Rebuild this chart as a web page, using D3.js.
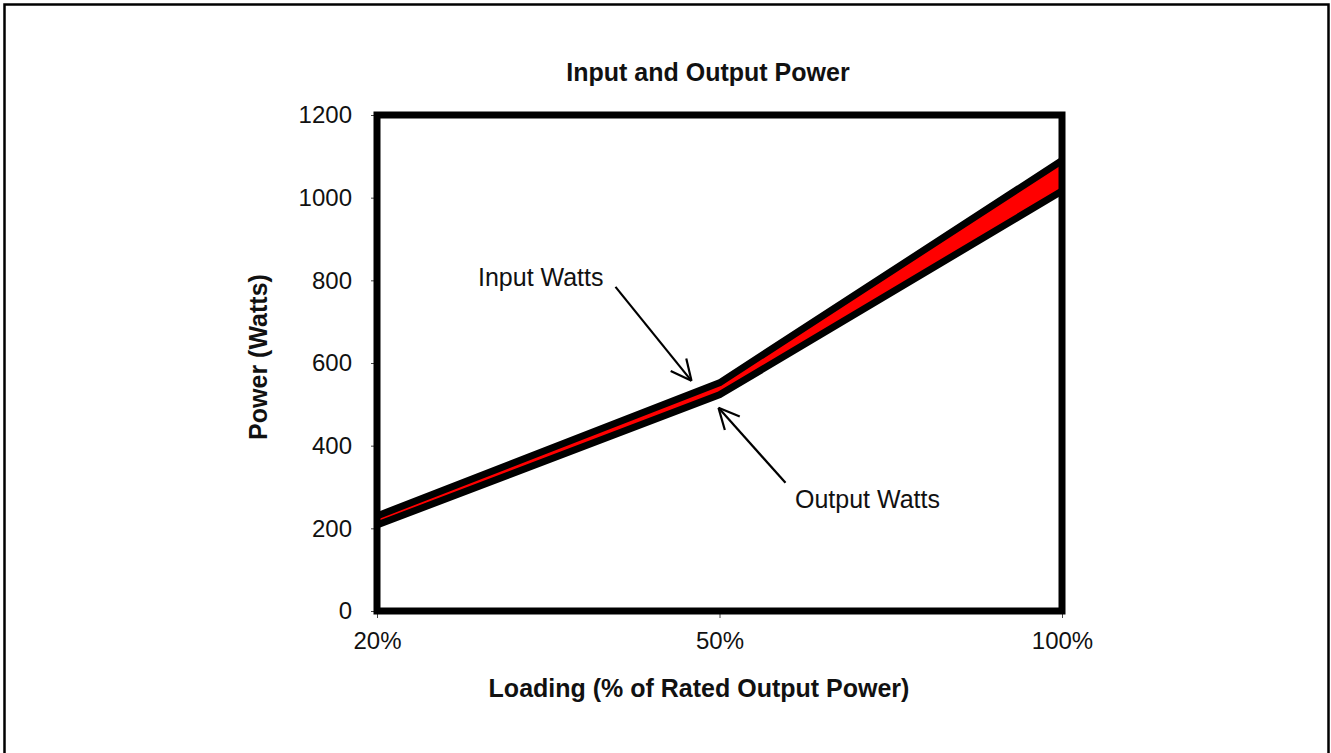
<!DOCTYPE html>
<html>
<head>
<meta charset="utf-8">
<script src="https://cdn.jsdelivr.net/npm/d3@7"></script>
<style>
  body { margin: 0; background: #fff; }
  text { font-family: "Liberation Sans", Arial, sans-serif; fill: #111; }
</style>
</head>
<body>
<div id="chart"></div>
<script>
// chart data
var loading = ["20%", "50%", "100%"];
var inputWatts = [230, 552, 1090];
var outputWatts = [208, 523, 1016];
var yTicks = [0, 200, 400, 600, 800, 1000, 1200];

var width = 1331,
    height = 753;

var svg = d3.select("#chart").append("svg")
  .attr("width", width)
  .attr("height", height);

// outer frame
svg.append("rect")
  .attr("x", 4.5).attr("y", 4.5)
  .attr("width", 1324).attr("height", 770)
  .attr("fill", "none")
  .attr("stroke", "#000")
  .attr("stroke-width", 2.5);

var x = d3.scalePoint().domain(loading).range([377, 1062]).padding(0);
var y = d3.scaleLinear().domain([0, 1200]).range([611, 115]);

// axes (ticks only, frame drawn later)
var yAxis = svg.append("g")
  .attr("transform", "translate(" + x.range()[0] + ",0)")
  .call(d3.axisLeft(y).tickValues(yTicks).tickFormat(d3.format("d")).tickSize(6).tickPadding(19));
yAxis.select(".domain").remove();
yAxis.selectAll("line").attr("stroke", "#444");
yAxis.selectAll("text").style("font-size", "24px").attr("font-family", null);

var xAxis = svg.append("g")
  .attr("transform", "translate(0," + y(0) + ")")
  .call(d3.axisBottom(x).tickSize(7).tickPadding(14));
xAxis.select(".domain").remove();
xAxis.selectAll("line").attr("stroke", "#444");
xAxis.selectAll("text").style("font-size", "24px").attr("font-family", null);

// red band between the two series
var rows = loading.map(function(d, i) {
  return { cat: d, inp: inputWatts[i], out: outputWatts[i] };
});

var band = d3.area()
  .x(function(d) { return x(d.cat); })
  .y0(function(d) { return y(d.out); })
  .y1(function(d) { return y(d.inp); });

svg.append("path")
  .datum(rows)
  .attr("d", band)
  .attr("fill", "#ff0000");

var line = d3.line()
  .x(function(d, i) { return x(loading[i]); })
  .y(function(d) { return y(d); });

[inputWatts, outputWatts].forEach(function(s) {
  svg.append("path")
    .datum(s)
    .attr("d", line)
    .attr("fill", "none")
    .attr("stroke", "#000")
    .attr("stroke-width", 7)
    .attr("stroke-linejoin", "round");
});

// plot frame
svg.append("rect")
  .attr("x", x.range()[0]).attr("y", y(1200))
  .attr("width", x.range()[1] - x.range()[0])
  .attr("height", y(0) - y(1200))
  .attr("fill", "none")
  .attr("stroke", "#000")
  .attr("stroke-width", 7);

// titles
svg.append("text")
  .attr("x", 708).attr("y", 81)
  .attr("text-anchor", "middle")
  .style("font-size", "25px").style("font-weight", "bold")
  .text("Input and Output Power");

svg.append("text")
  .attr("x", 699).attr("y", 697)
  .attr("text-anchor", "middle")
  .style("font-size", "25px").style("font-weight", "bold")
  .text("Loading (% of Rated Output Power)");

svg.append("text")
  .attr("transform", "translate(267,357) rotate(-90)")
  .attr("text-anchor", "middle")
  .style("font-size", "25px").style("font-weight", "bold")
  .text("Power (Watts)");

// annotations with open arrowheads
function arrow(x1, y1, x2, y2) {
  var g = svg.append("g")
    .attr("stroke", "#000")
    .attr("stroke-width", 2.2)
    .attr("fill", "none");
  g.append("line").attr("x1", x1).attr("y1", y1).attr("x2", x2).attr("y2", y2);
  var a = Math.atan2(y2 - y1, x2 - x1), len = 23, spread = 0.45;
  [a + Math.PI - spread, a + Math.PI + spread].forEach(function(t) {
    g.append("line")
      .attr("x1", x2).attr("y1", y2)
      .attr("x2", x2 + len * Math.cos(t))
      .attr("y2", y2 + len * Math.sin(t));
  });
}

var midX = x("50%");
arrow(midX - 104, y(inputWatts[1]) - 96, midX - 28, y(inputWatts[1]) - 2);
arrow(midX + 66, y(outputWatts[1]) + 88, midX - 1, y(outputWatts[1]) + 13);

svg.append("text")
  .attr("x", 478).attr("y", 286)
  .style("font-size", "25px")
  .text("Input Watts");

svg.append("text")
  .attr("x", 795).attr("y", 508)
  .style("font-size", "25px")
  .text("Output Watts");
</script>
</body>
</html>
